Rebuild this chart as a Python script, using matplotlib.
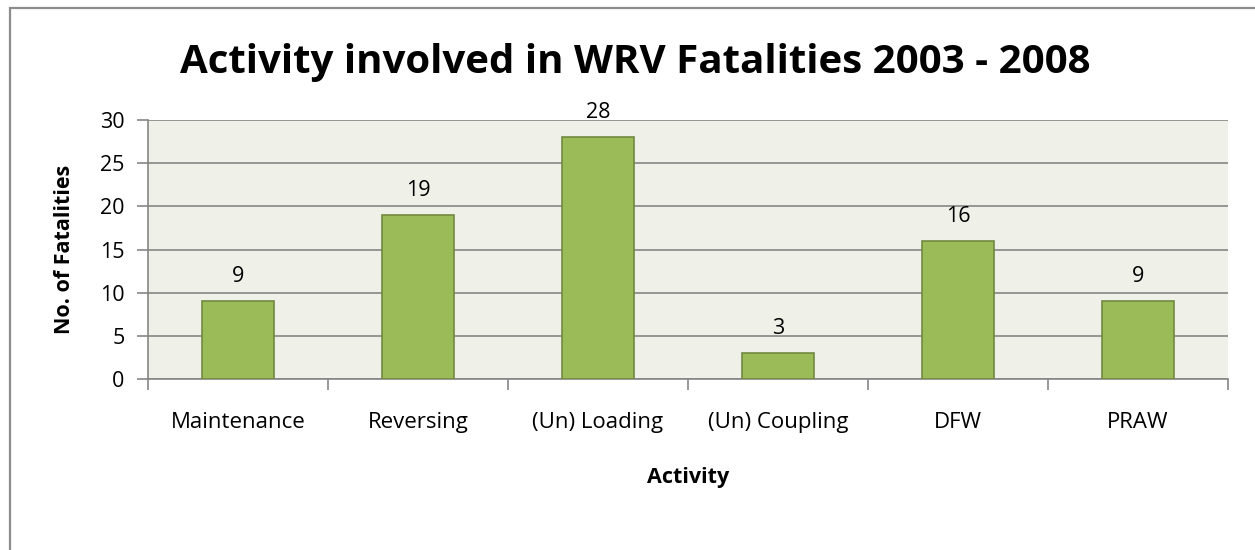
import matplotlib.pyplot as plt
from matplotlib.patches import Rectangle

activities = ['Maintenance', 'Reversing', '(Un) Loading', '(Un) Coupling', 'DFW', 'PRAW']
fatalities = [9, 19, 28, 3, 16, 9]

plt.rcParams['font.family'] = ['Open Sans', 'DejaVu Sans']

fig = plt.figure(figsize=(12.55, 5.5), dpi=100)
ax = fig.add_axes([148 / 1255, 1 - 379 / 550, 1080 / 1255, 259 / 550])

# outer chart border (runs off the right and bottom edge like the reference)
fig.add_artist(Rectangle((10 / 1255, -0.1), 1.2, 1 - 8 / 550 + 0.1, transform=fig.transFigure,
                         fill=False, edgecolor='#8c8c8c', linewidth=1.6, clip_on=False))

x = range(len(activities))
bars = ax.bar(x, fatalities, width=0.4, color='#9bbb59', edgecolor='#71893f', linewidth=1.2, zorder=3)
for xi, v in zip(x, fatalities):
    ax.annotate(str(v), (xi, v), xytext=(0, 10), textcoords='offset points',
                ha='center', va='bottom', fontsize=15.5)

ax.set_facecolor('#eff1e9')
ax.set_xlim(-0.5, len(activities) - 0.5)
ax.set_ylim(0, 30)
ax.set_yticks(range(0, 31, 5))
ax.tick_params(axis='y', labelsize=15.5, length=8, width=1.2, color='#868686', pad=9)
ax.set_xticks([i - 0.5 for i in range(len(activities) + 1)], minor=False)
ax.set_xticklabels([''] * (len(activities) + 1))
ax.set_xticks(list(x), minor=True)
ax.set_xticklabels(activities, minor=True)
ax.tick_params(axis='x', which='major', length=8, width=1.2, color='#868686')
ax.tick_params(axis='x', which='minor', length=0, labelsize=16, pad=24)
ax.grid(axis='y', color='#868686', linewidth=1.2, zorder=0)
for s in ['top', 'right']:
    ax.spines[s].set_visible(False)
for s in ['left', 'bottom']:
    ax.spines[s].set_color('#868686')
    ax.spines[s].set_linewidth(1.2)

ax.set_xlabel('Activity', fontsize=15.5, fontweight='bold', labelpad=24)
ax.set_ylabel('No. of Fatalities', fontsize=15.5, fontweight='bold', labelpad=18)
fig.text(635 / 1255, 1 - 63 / 550, 'Activity involved in WRV Fatalities 2003 - 2008',
         ha='center', va='center', fontsize=29, fontweight='bold')

fig.savefig('out.png', dpi=100)
